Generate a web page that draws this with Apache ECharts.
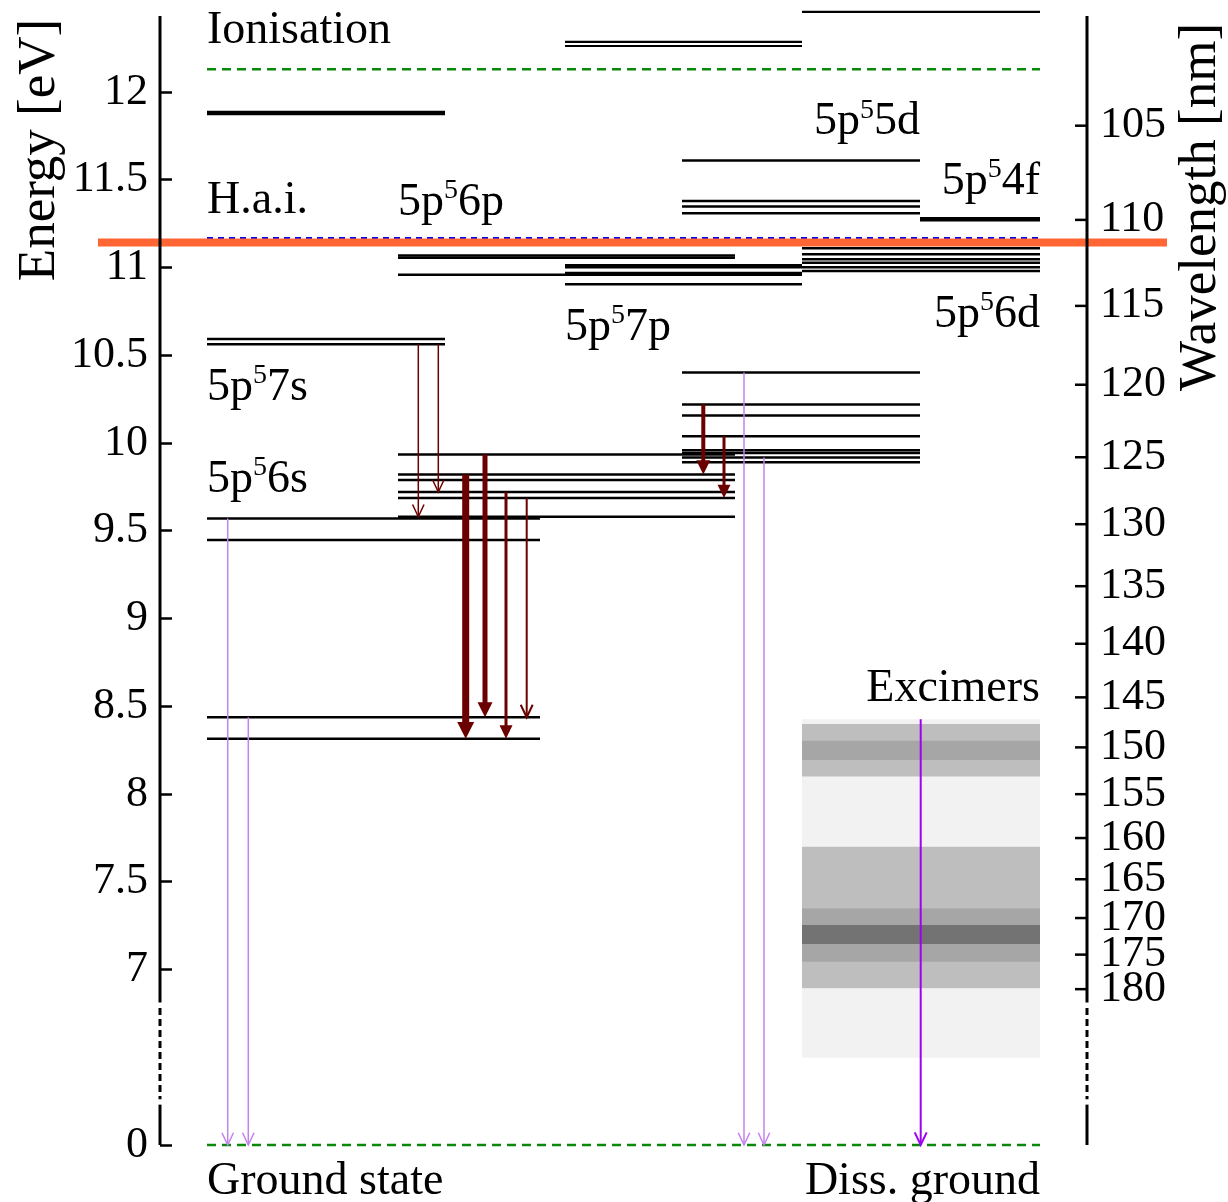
<!DOCTYPE html>
<html>
<head>
<meta charset="utf-8">
<script src="https://cdn.jsdelivr.net/npm/echarts@6.0.0/dist/echarts.min.js"></script>
<style>
html, body { margin: 0; padding: 0; background: #fff; }
#chart { width: 1228px; height: 1202px; }
</style>
</head>
<body>
<div id="chart"></div>
<script>
// level energies in eV
const levels6s = [8.315, 8.437, 9.447, 9.570];
const levels7s = [10.562, 10.593];
const levels6p = [9.580, 9.686, 9.721, 9.789, 9.821, 9.934, 10.958, 11.055, 11.069, 11.141];
const levels7p = [10.905, 10.958, 10.969, 11.002, 11.013];
const levels5d = [9.890, 9.917, 9.943, 9.959, 10.039, 10.157, 10.220, 10.401, 11.309, 11.347, 11.379, 11.609];
const levels6d = [10.980, 11.001, 11.027, 11.047, 11.075, 11.109];
const levels4f = [11.275];
const levelsHighA = [11.88];
const levelsHighB = [12.262, 12.285];
const levelsHighC = [12.456];
const ionisationEnergy = 12.13;
const haiEnergy = 11.168;
const groundEnergy = 0;
const markerEnergy = 11.142;

// radiative cascades: [from eV, to eV, relative strength]
const cascades = [
  [10.562, 9.580, 1.5],
  [10.562, 9.721, 1.5],
  [9.821, 8.315, 7],
  [9.934, 8.437, 5],
  [9.721, 8.315, 3],
  [9.686, 8.437, 2],
  [10.220, 9.821, 4],
  [10.039, 9.686, 3]
];
// decays to the ground state: start energies
const groundDecays = [9.570, 8.437, 10.401, 9.917];
const excimerDecay = 8.426;

// excimer continuum bands: edges (axis units, last one lies in the axis break) and intensity step
const excimerEdges = [8.426, 8.399, 8.304, 8.194, 8.099, 7.700, 7.349, 7.254, 7.145, 7.044, 6.893, 6.5];
const excimerLevel = [0, 1, 2, 1, 0, 1, 2, 3, 2, 1, 0];

const energyTicks = [0, 7, 7.5, 8, 8.5, 9, 9.5, 10, 10.5, 11, 11.5, 12];
const wavelengthTicks = [105, 110, 115, 120, 125, 130, 135, 140, 145, 150, 155, 160, 165, 170, 175, 180];

// ---- layout ----
const HC = 1239.84;
const toAxis = e => (e < 1 ? e + 6 : e);   // 0 eV is drawn below the axis break
const FONT = "'Liberation Serif', 'DejaVu Serif', serif";
const X_MAX = 927;
const cols = {
  s7: [47, 285], s6: [47, 380], p6: [238, 575], p7: [405, 642],
  d5: [522, 760], d6: [642, 880], f4: [760, 880], full: [47, 880], marker: [-62, 1007]
};
const cascadeX = [258.3, 278.3, 305.7, 325, 346, 366.7, 543.3, 564];
const groundDecayX = [67.7, 88.3, 584, 604];
const excimerX = 760.7;
const shade = ['#f2f2f2', '#bebebe', '#a6a6a6', '#737373'];

const sup = (a, b) => '{m|' + a + '}{s|5}{m|' + b + '}';
const labels = [
  { text: '{m|Ionisation}', x: 47, y: 12.350, align: 'left' },
  { text: '{m|H.a.i.}', x: 47, y: 11.378, align: 'left' },
  { text: sup('5p', '6p'), x: 238, y: 11.367, align: 'left' },
  { text: sup('5p', '5d'), x: 760, y: 11.828, align: 'right' },
  { text: sup('5p', '4f'), x: 880, y: 11.487, align: 'right' },
  { text: sup('5p', '7p'), x: 405, y: 10.655, align: 'left' },
  { text: sup('5p', '6d'), x: 880, y: 10.729, align: 'right' },
  { text: sup('5p', '7s'), x: 47, y: 10.313, align: 'left' },
  { text: sup('5p', '6s'), x: 47, y: 9.789, align: 'left' },
  { text: '{m|Excimers}', x: 880, y: 8.598, align: 'right' },
  { text: '{m|Ground state}', x: 47, y: 5.790, align: 'left' },
  { text: '{m|Diss. ground}', x: 880, y: 5.790, align: 'right' }
];
const axisSegments = [
  [0, 12.433, 6.812, 0], [0, 6.78, 6.26, 1], [0, 6.23, 6.0, 0],
  [X_MAX, 12.433, 6.812, 0], [X_MAX, 6.78, 6.26, 1], [X_MAX, 6.23, 6.0, 0]
];

const chart = echarts.init(document.getElementById('chart'));

function hline(api, x0, x1, y, style) {
  const a = api.coord([x0, y]);
  const b = api.coord([x1, y]);
  return { type: 'line', shape: { x1: a[0], y1: a[1], x2: b[0], y2: b[1] }, style: style };
}

function levelSeries(name, energies, col, lw, color, dash, z) {
  return {
    type: 'custom', name: name, clip: false, silent: true, z: z || 3,
    data: energies.map(e => [col[0], col[1], toAxis(e)]),
    renderItem: (params, api) => hline(api, api.value(0), api.value(1), api.value(2),
      { stroke: color || '#000', lineWidth: lw, lineDash: dash || null })
  };
}

function arrowSeries(name, items, color, z) {
  return {
    type: 'custom', name: name, clip: false, silent: true, z: z,
    data: items,
    renderItem: (params, api) => {
      const x = api.value(0), w = api.value(3);
      const p0 = api.coord([x, api.value(1)]);
      const p1 = api.coord([x, api.value(2)]);
      const hw = 5 + w * 0.5, hl = 11 + w * 0.8;
      const children = [];
      if (w >= 3) {
        children.push({ type: 'line', shape: { x1: p0[0], y1: p0[1], x2: p1[0], y2: p1[1] - hl + 2 },
          style: { stroke: color, lineWidth: w } });
        children.push({ type: 'polygon', shape: { points: [[p1[0], p1[1]], [p1[0] - hw, p1[1] - hl], [p1[0] + hw, p1[1] - hl]] },
          style: { fill: color } });
      } else {
        children.push({ type: 'line', shape: { x1: p0[0], y1: p0[1], x2: p1[0], y2: p1[1] },
          style: { stroke: color, lineWidth: w } });
        children.push({ type: 'polyline', shape: { points: [[p1[0] - hw, p1[1] - hl], [p1[0], p1[1]], [p1[0] + hw, p1[1] - hl]] },
          style: { stroke: color, lineWidth: w, fill: null } });
      }
      return { type: 'group', children: children };
    }
  };
}

const cascadeData = cascades.map((c, i) => [cascadeX[i], c[0], c[1], c[2]]);
const groundData = groundDecays.map((e, i) => [groundDecayX[i], e, toAxis(groundEnergy), 1.5]);
const excimerData = excimerLevel.map((lv, i) => [cols.d6[0], cols.d6[1], excimerEdges[i], excimerEdges[i + 1], lv]);
// right axis is non-linear in wavelength: ticks placed at E = hc / lambda
const wavelengthData = wavelengthTicks.map(w => [X_MAX, HC / w, w]);

const option = {
  animation: false,
  textStyle: { fontFamily: FONT },
  grid: { left: 160, right: 141, top: 16, bottom: 57 },
  xAxis: { type: 'value', min: 0, max: X_MAX, show: false },
  yAxis: {
    type: 'value', position: 'left', min: 6.0, max: 12.433,
    axisLine: { show: false },
    splitLine: { show: false },
    axisTick: { inside: true, length: 12, lineStyle: { color: '#000', width: 2.5 },
      customValues: energyTicks.map(toAxis) },
    axisLabel: { margin: 12, color: '#000', fontSize: 44, fontFamily: FONT,
      showMinLabel: true, showMaxLabel: true, hideOverlap: false,
      customValues: energyTicks.map(toAxis),
      formatter: v => (v < 6.5 ? '0' : String(Math.round(v * 10) / 10)) }
  },
  graphic: [
    { type: 'text', x: 40, y: 150, rotation: Math.PI / 2,
      style: { text: 'Energy [eV]', fontSize: 53, fontFamily: FONT, fill: '#000', align: 'center', verticalAlign: 'middle' } },
    { type: 'text', x: 1201, y: 207, rotation: Math.PI / 2,
      style: { text: 'Wavelength [nm]', fontSize: 53, fontFamily: FONT, fill: '#000', align: 'center', verticalAlign: 'middle' } }
  ],
  series: [
    {
      type: 'custom', name: 'Excimers', clip: false, silent: true, z: 1,
      data: excimerData,
      renderItem: (params, api) => {
        const a = api.coord([api.value(0), api.value(2)]);
        const b = api.coord([api.value(1), api.value(3)]);
        return { type: 'rect', shape: { x: a[0], y: a[1], width: b[0] - a[0], height: b[1] - a[1] + 0.5 },
          style: { fill: shade[api.value(4)] } };
      }
    },
    levelSeries('5p56s', levels6s, cols.s6, 2.5),
    levelSeries('5p57s', levels7s, cols.s7, 2.5),
    levelSeries('5p56p', levels6p, cols.p6, 2.5),
    levelSeries('5p57p', levels7p, cols.p7, 2.5),
    levelSeries('5p55d', levels5d, cols.d5, 2.5),
    levelSeries('5p56d', levels6d, cols.d6, 2.5),
    levelSeries('5p54f', levels4f, cols.f4, 4.5),
    levelSeries('high A', levelsHighA, cols.s7, 4.5),
    levelSeries('high B', levelsHighB, cols.p7, 2.2),
    levelSeries('high C', levelsHighC, cols.d6, 2.2),
    levelSeries('Ionisation', [ionisationEnergy], cols.full, 2.5, '#0a880a', [9, 6]),
    levelSeries('H.a.i.', [haiEnergy], cols.full, 2, '#0000ee', [6, 5]),
    levelSeries('Ground', [groundEnergy], cols.full, 2.5, '#0a880a', [9, 6]),
    arrowSeries('cascades', cascadeData, '#6b0000', 4),
    arrowSeries('ground decays', groundData, '#c383ec', 4),
    arrowSeries('excimer decay', [[excimerX, excimerDecay, toAxis(groundEnergy), 2]], '#a000f0', 4),
    levelSeries('marker', [markerEnergy], cols.marker, 8, '#ff6633', null, 6),
    {
      type: 'custom', name: 'axis lines', clip: false, silent: true, z: 6,
      data: axisSegments,
      renderItem: (params, api) => {
        const a = api.coord([api.value(0), api.value(1)]);
        const b = api.coord([api.value(0), api.value(2)]);
        return { type: 'line', shape: { x1: a[0], y1: a[1], x2: b[0], y2: b[1] },
          style: { stroke: '#000', lineWidth: 3, lineDash: api.value(3) ? [7, 4] : null } };
      }
    },
    {
      type: 'custom', name: 'wavelength axis', clip: false, silent: true, z: 6,
      data: wavelengthData,
      renderItem: (params, api) => {
        const p = api.coord([api.value(0), api.value(1)]);
        return {
          type: 'group',
          children: [
            { type: 'line', shape: { x1: p[0] - 12, y1: p[1], x2: p[0], y2: p[1] },
              style: { stroke: '#000', lineWidth: 2.5 } },
            { type: 'text', x: p[0] + 13, y: p[1],
              style: { text: String(api.value(2)), align: 'left', verticalAlign: 'middle',
                fontFamily: FONT, fontSize: 44, fill: '#000' } }
          ]
        };
      }
    },
    {
      type: 'custom', name: 'labels', clip: false, silent: true, z: 7,
      data: labels.map(l => [l.x, l.y]),
      renderItem: (params, api) => {
        const l = labels[params.dataIndex];
        const p = api.coord([api.value(0), api.value(1)]);
        return {
          type: 'text', x: p[0], y: p[1],
          style: {
            text: l.text, align: l.align, verticalAlign: 'middle', fill: '#000',
            fontFamily: FONT, fontSize: 46,
            rich: {
              m: { fontSize: 46, fontFamily: FONT, lineHeight: 52, fill: '#000' },
              s: { fontSize: 28, fontFamily: FONT, lineHeight: 18, verticalAlign: 'top', fill: '#000' }
            }
          }
        };
      }
    }
  ]
};

chart.setOption(option);
window.addEventListener('resize', () => chart.resize());
</script>
</body>
</html>
